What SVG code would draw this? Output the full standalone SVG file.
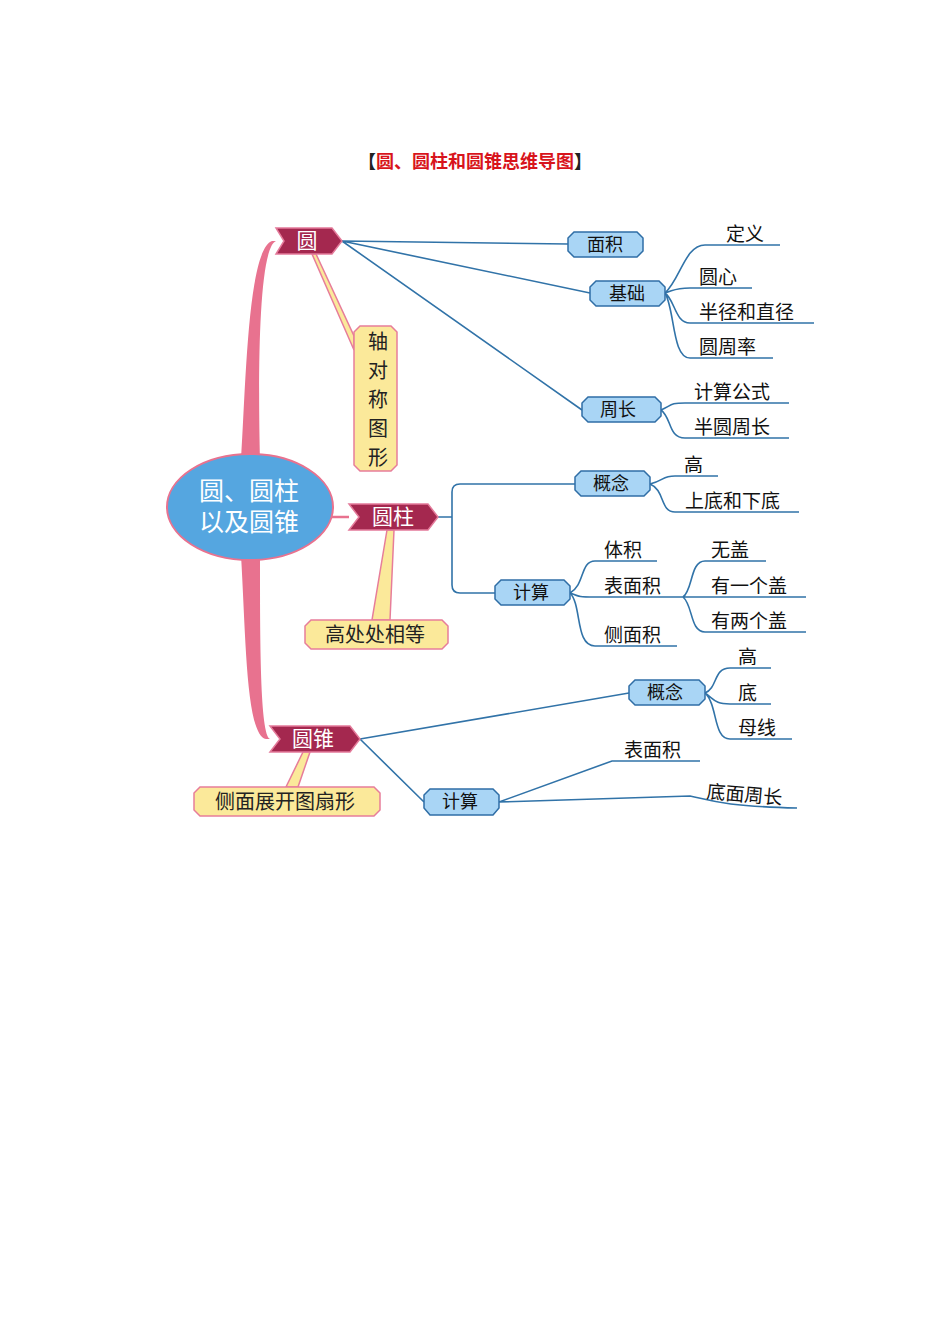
<svg xmlns="http://www.w3.org/2000/svg" width="950" height="1344" viewBox="0 0 950 1344">
<style>
text{font-family:"Noto Sans CJK SC","Liberation Sans",sans-serif}
.bn{fill:#a4284f;stroke:#e47a9a;stroke-width:1.5}
.bt{fill:#fff;font-size:21px;text-anchor:middle}
.pl{fill:#a9d5f5;stroke:#2f6ea6;stroke-width:1.5}
.pt{fill:#111;font-size:18px;text-anchor:middle}
.yl{fill:#fbe99a;stroke:#e77d9a;stroke-width:1.5}
.yt{fill:#222;font-size:20px;text-anchor:middle}
.lf{fill:#111;font-size:19px}
.ln{fill:none;stroke:#3173a8;stroke-width:1.6}
</style>
<rect width="950" height="1344" fill="#fff"/>
<text x="475" y="168" font-size="18" font-weight="bold" text-anchor="middle"><tspan fill="#222">【</tspan><tspan fill="#d8141c">圆、圆柱和圆锥思维导图</tspan><tspan fill="#222">】</tspan></text>
<g id="connectors">
<path d="M241,460 C246,380 248,250 272,241 L276,241 C258,248 258,380 260,460 Z" fill="#e8728f"/>
<path d="M241,555 C246,640 246,735 266,739 L270,739 C260,735 260,640 260,555 Z" fill="#e8728f"/>
<path d="M330,517 L349,517" stroke="#e8728f" stroke-width="2.5"/>
<path d="M316,254 L354,336 L354,350 L312,254 Z" class="yl"/>
<path d="M387,530 L372,620 L390,620 L394,530 Z" class="yl"/>
<path d="M303,752 L286,787 L298,787 L310,752 Z" class="yl"/>
<path class="ln" d="M342,241 L568,244 M342,241 L590,293 M342,241 L582,410"/>
<path class="ln" d="M665,293 C680,280 685,245 705,245 L780,245 M665,293 C675,290 675,288 690,288 L752,288 M665,293 C675,300 675,323 690,323 L814,323 M665,293 C675,310 672,358 690,358 L773,358"/>
<path class="ln" d="M661,410 C672,405 670,403 685,403 L789,403 M661,410 C672,418 668,438 685,438 L789,438"/>
<path class="ln" d="M438,517 L452,517 M575,484 L460,484 Q452,484 452,492 L452,585 Q452,593 460,593 L495,593"/>
<path class="ln" d="M650,484 C665,480 662,476 675,476 L718,476 M650,484 C665,490 660,512 675,512 L799,512"/>
<path class="ln" d="M570,593 C585,585 580,561 595,561 L657,561 M570,593 C580,597 580,597 595,597 L683,597 M570,593 C582,605 575,646 595,646 L677,646"/>
<path class="ln" d="M683,597 C693,590 690,561 705,561 L766,561 M683,597 L806,597 M683,597 C693,605 690,632 705,632 L806,632"/>
<path class="ln" d="M360,739 L629,693 M360,739 L424,802"/>
<path class="ln" d="M705,693 C718,688 713,668 730,668 L771,668 M705,693 C715,700 715,704 730,704 L771,704 M705,693 C718,705 713,739 730,739 L792,739"/>
<path class="ln" d="M499,802 L612,761 L700,761 M499,802 L690,796 C710,800 720,806 797,808"/>
</g>
<g id="n-center"><ellipse cx="250" cy="507" rx="83" ry="53" fill="#55a6e0" stroke="#e8728f" stroke-width="2"/><text x="249" y="500" fill="#fff" font-size="25" text-anchor="middle">圆、圆柱</text><text x="249" y="531" fill="#fff" font-size="25" text-anchor="middle">以及圆锥</text></g>
<g id="n-yuan"><polygon class="bn" points="276,228 332,228 342,241 332,254 276,254 284,241"/><text class="bt" x="307" y="248">圆</text></g>
<g id="n-yuanzhu"><polygon class="bn" points="349,504 428,504 438,517 428,530 349,530 359,517"/><text class="bt" x="393" y="524">圆柱</text></g>
<g id="n-yuanzhui"><polygon class="bn" points="270,726 350,726 360,739 350,752 270,752 280,739"/><text class="bt" x="313" y="746">圆锥</text></g>
<g id="n-zhou"><polygon class="yl" points="360,326 391,326 397,332 397,465 391,471 360,471 354,465 354,332"/><text class="yt" x="378" y="349">轴</text><text class="yt" x="378" y="378">对</text><text class="yt" x="378" y="407">称</text><text class="yt" x="378" y="436">图</text><text class="yt" x="378" y="465">形</text></g>
<g id="n-gao"><polygon class="yl" points="311,620 442,620 448,626 448,643 442,649 311,649 305,643 305,626"/><text class="yt" x="375" y="642">高处处相等</text></g>
<g id="n-cemian"><polygon class="yl" points="200,787 374,787 380,793 380,810 374,816 200,816 194,810 194,793"/><text class="yt" x="285" y="809">侧面展开图扇形</text></g>
<g id="n-mianji"><polygon class="pl" points="574,232 637,232 643,238 643,251 637,257 574,257 568,251 568,238"/><text class="pt" x="605" y="251">面积</text></g>
<g id="n-jichu"><polygon class="pl" points="596,281 659,281 665,287 665,300 659,306 596,306 590,300 590,287"/><text class="pt" x="627" y="300">基础</text></g>
<g id="n-zhouchang"><polygon class="pl" points="588,397 655,397 661,403 661,416 655,422 588,422 582,416 582,403"/><text class="pt" x="618" y="416">周长</text></g>
<g id="n-gainian1"><polygon class="pl" points="581,471 644,471 650,477 650,490 644,496 581,496 575,490 575,477"/><text class="pt" x="611" y="490">概念</text></g>
<g id="n-jisuan1"><polygon class="pl" points="501,580 564,580 570,586 570,599 564,605 501,605 495,599 495,586"/><text class="pt" x="531" y="599">计算</text></g>
<g id="n-gainian2"><polygon class="pl" points="635,680 699,680 705,686 705,699 699,705 635,705 629,699 629,686"/><text class="pt" x="665" y="699">概念</text></g>
<g id="n-jisuan2"><polygon class="pl" points="430,789 493,789 499,795 499,808 493,815 430,815 424,808 424,795"/><text class="pt" x="460" y="808">计算</text></g>
<g id="leaves">
<text class="lf" x="726" y="241">定义</text>
<text class="lf" x="699" y="284">圆心</text>
<text class="lf" x="699" y="319">半径和直径</text>
<text class="lf" x="699" y="354">圆周率</text>
<text class="lf" x="694" y="399">计算公式</text>
<text class="lf" x="694" y="434">半圆周长</text>
<text class="lf" x="684" y="472">高</text>
<text class="lf" x="685" y="508">上底和下底</text>
<text class="lf" x="604" y="557">体积</text>
<text class="lf" x="604" y="593">表面积</text>
<text class="lf" x="604" y="642">侧面积</text>
<text class="lf" x="711" y="557">无盖</text>
<text class="lf" x="711" y="593">有一个盖</text>
<text class="lf" x="711" y="628">有两个盖</text>
<text class="lf" x="738" y="664">高</text>
<text class="lf" x="738" y="700">底</text>
<text class="lf" x="738" y="735">母线</text>
<text class="lf" x="624" y="757">表面积</text>
<text class="lf" x="706" y="798" transform="rotate(5 706 798)">底面周长</text>
</g>
</svg>
